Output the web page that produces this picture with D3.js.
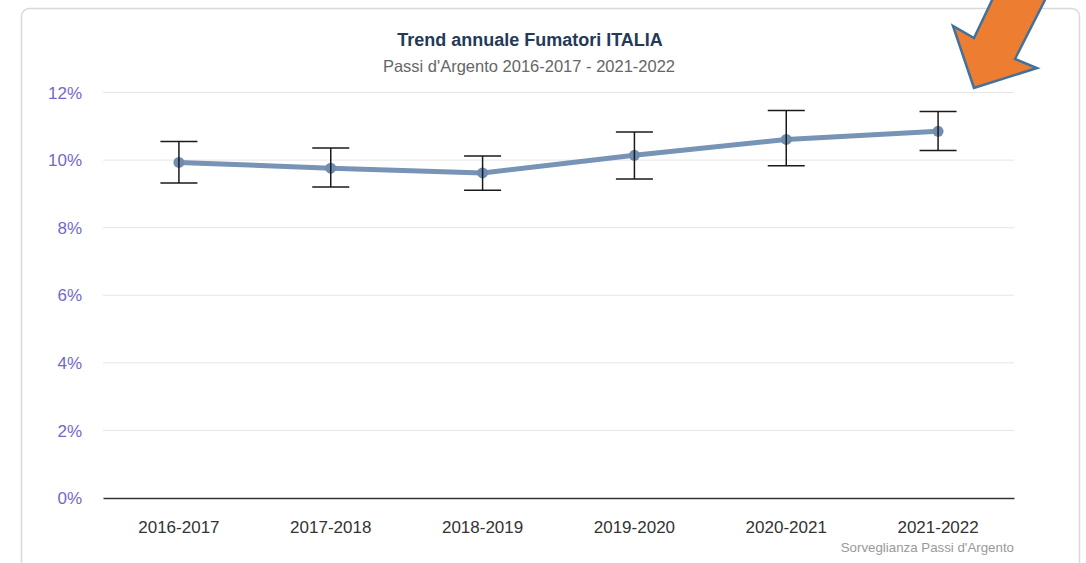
<!DOCTYPE html>
<html>
<head>
<meta charset="utf-8">
<script src="https://cdn.jsdelivr.net/npm/d3@7"></script>
<style>
  body { margin: 0; background: #fff; }
  text { font-family: Arial, "Liberation Sans", sans-serif; }
</style>
</head>
<body>
<div id="chart"></div>
<script>
var years = ["2016-2017", "2017-2018", "2018-2019", "2019-2020", "2020-2021", "2021-2022"];
var values = [9.93, 9.76, 9.62, 10.14, 10.61, 10.85];
var lows = [9.32, 9.20, 9.11, 9.44, 9.83, 10.28];
var highs = [10.55, 10.36, 10.12, 10.83, 11.47, 11.44];
var yTicks = [0, 2, 4, 6, 8, 10, 12];

var width = 1086, height = 563;

var svg = d3.select("#chart").append("svg")
    .attr("width", width)
    .attr("height", height);

// card
svg.append("rect")
    .attr("x", 21.5).attr("y", 8.5)
    .attr("width", 1058).attr("height", 600)
    .attr("rx", 8)
    .attr("fill", "#fff")
    .attr("stroke", "#d9d9d9")
    .attr("stroke-width", 1.5);

var x = d3.scaleBand()
    .domain(years)
    .range([103, 1014]);

var y = d3.scaleLinear()
    .domain([0, 12])
    .range([498, 92.5]);

var cx = function(d) { return x(d) + x.bandwidth() / 2; };

// grid
svg.append("g").selectAll("line")
    .data(yTicks.filter(function(d) { return d > 0; }))
  .enter().append("line")
    .attr("x1", 103).attr("x2", 1014)
    .attr("y1", function(d) { return y(d); })
    .attr("y2", function(d) { return y(d); })
    .attr("stroke", "#e6e6e6")
    .attr("stroke-width", 1);

// y labels
svg.append("g").selectAll("text")
    .data(yTicks)
  .enter().append("text")
    .attr("x", 82)
    .attr("y", function(d) { return y(d); })
    .attr("dy", "0.36em")
    .attr("text-anchor", "end")
    .attr("font-size", 17)
    .attr("fill", "#7268c9")
    .text(function(d) { return d + "%"; });

// x axis
var xAxis = d3.axisBottom(x).tickSize(0).tickPadding(23);
var gx = svg.append("g")
    .attr("transform", "translate(0," + y(0) + ")")
    .call(xAxis);
gx.select(".domain").attr("stroke", "#333").attr("stroke-width", 1.5);
gx.selectAll("text")
    .attr("font-size", 17)
    .attr("fill", "#333")
    .attr("font-family", "Arial, 'Liberation Sans', sans-serif");

// line
var line = d3.line()
    .x(function(d, i) { return cx(years[i]); })
    .y(function(d) { return y(d); });

svg.append("path")
    .datum(values)
    .attr("d", line)
    .attr("fill", "none")
    .attr("stroke", "#7793b5")
    .attr("stroke-width", 5)
    .attr("stroke-linejoin", "round");

svg.append("g").selectAll("circle")
    .data(values)
  .enter().append("circle")
    .attr("cx", function(d, i) { return cx(years[i]); })
    .attr("cy", function(d) { return y(d); })
    .attr("r", 5.5)
    .attr("fill", "#6f8db0");

// error bars
var cap = 18.5;
var eb = svg.append("g").selectAll("g")
    .data(years)
  .enter().append("g")
    .attr("stroke", "#1a1a1a")
    .attr("stroke-width", 1.5);
eb.append("line")
    .attr("x1", function(d) { return cx(d); })
    .attr("x2", function(d) { return cx(d); })
    .attr("y1", function(d, i) { return y(lows[i]); })
    .attr("y2", function(d, i) { return y(highs[i]); });
eb.append("line")
    .attr("x1", function(d) { return cx(d) - cap; })
    .attr("x2", function(d) { return cx(d) + cap; })
    .attr("y1", function(d, i) { return y(highs[i]); })
    .attr("y2", function(d, i) { return y(highs[i]); });
eb.append("line")
    .attr("x1", function(d) { return cx(d) - cap; })
    .attr("x2", function(d) { return cx(d) + cap; })
    .attr("y1", function(d, i) { return y(lows[i]); })
    .attr("y2", function(d, i) { return y(lows[i]); });

// titles
svg.append("text")
    .attr("x", 530).attr("y", 46)
    .attr("text-anchor", "middle")
    .attr("font-size", 18)
    .attr("font-weight", "bold")
    .attr("fill", "#253a58")
    .text("Trend annuale Fumatori ITALIA");

svg.append("text")
    .attr("x", 529).attr("y", 72)
    .attr("text-anchor", "middle")
    .attr("font-size", 16.5)
    .attr("fill", "#666")
    .text("Passi d'Argento 2016-2017 - 2021-2022");

// credits
svg.append("text")
    .attr("x", 1014).attr("y", 552)
    .attr("text-anchor", "end")
    .attr("font-size", 13.3)
    .attr("fill", "#999")
    .text("Sorveglianza Passi d'Argento");

// arrow callout
svg.append("path")
    .attr("d", "M974,88 L953,26 L974,38 L995,-6 L1048,-6 L1015,59 L1037,68 Z")
    .attr("fill", "#ed7d31")
    .attr("stroke", "#41719c")
    .attr("stroke-width", 2.5)
    .attr("stroke-linejoin", "miter");
</script>
</body>
</html>
